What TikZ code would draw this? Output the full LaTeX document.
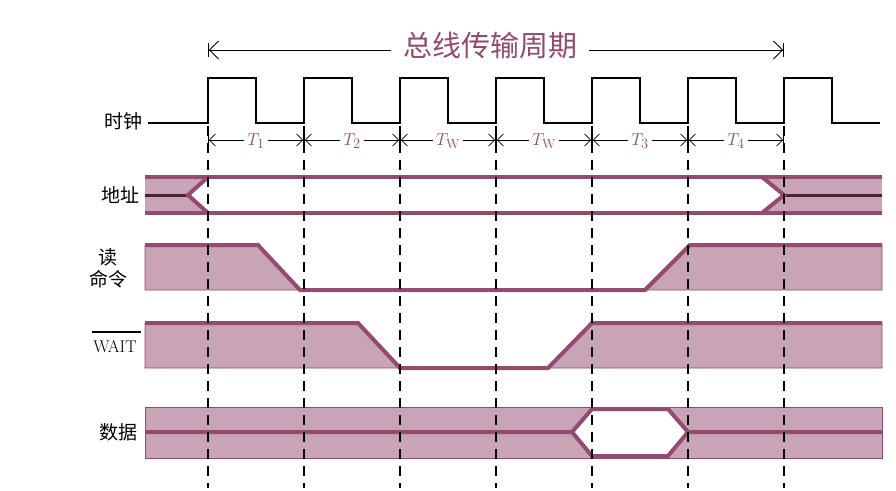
\documentclass[tikz,border=0pt]{standalone}
\usepackage{fontspec}
\newfontfamily\cjk{Noto Sans CJK SC}
\usetikzlibrary{arrows.meta}
\definecolor{pl}{HTML}{934B70}
\definecolor{pf}{HTML}{C9A3B6}
\definecolor{dk}{HTML}{4A2236}
\begin{document}
\begin{tikzpicture}[x=1pt,y=-1pt,
  sig/.style={pl,line width=4pt,line join=miter},
  fl/.style={fill=pf,draw=pl,line width=0.6pt},
  lbl/.style={font=\cjk\fontsize{19}{22}\selectfont,anchor=east},
  dim/.style={{Bar[width=8pt]Straight Barb[length=6pt]}-{Straight Barb[length=6pt]Bar[width=8pt]},line width=0.8pt}]
\useasboundingbox (0,0) rectangle (896,490);
% title
\draw[{Bar[width=14pt]Straight Barb[length=9pt]}-{Straight Barb[length=9pt]Bar[width=14pt]},line width=0.9pt] (208,50) -- (784,50);
\node[fill=white,text=pl,font=\cjk\fontsize{29}{32}\selectfont,inner xsep=12pt] (title) at (490,46) {总线传输周期};
% clock
\draw[line width=2.4pt] (148,123)
 foreach \x in {208,304,400,496,592,688,784} { -- (\x,123) -- (\x,78) -- (\x+48,78) -- (\x+48,123)} -- (880,123);
\node[lbl] (clk) at (146,121) {时钟};
% T labels
\foreach \a/\t [count=\i] in {208/$T_1$,304/$T_2$,400/$T_{\mathrm W}$,496/$T_{\mathrm W}$,592/$T_3$,688/$T_4$}{
  \draw[dim] (\a,140) -- (\a+96,140);
  \node[fill=white,text=pl,font=\fontsize{19}{21}\selectfont,inner sep=3pt] (t\i) at (\a+48,141) {\t};
}
% address
\fill[pf] (145,177) -- (208,177) -- (188,195) -- (208,213) -- (145,213) -- cycle;
\fill[pf] (882,177) -- (762,177) -- (784,195) -- (762,213) -- (882,213) -- cycle;
\draw[dk,line width=3pt] (145,195) -- (188,195);
\draw[dk,line width=3pt] (784,195) -- (882,195);
\draw[sig] (145,177) -- (882,177);
\draw[sig] (145,213) -- (882,213);
\draw[sig] (208,177) -- (188,195) -- (208,213);
\draw[sig] (762,177) -- (784,195) -- (762,213);
\node[lbl] (addr) at (143,195) {地址};
% read
\draw[fl] (145,245) -- (258,245) -- (300,290) -- (145,290) -- cycle;
\draw[fl] (690,245) -- (882,245) -- (882,290) -- (645,290) -- cycle;
\draw[sig] (145,245) -- (258,245) -- (300,290) -- (645,290) -- (690,245) -- (882,245);
\node[lbl,align=center,anchor=center] (rd) at (108,268) {读\\命令};
% wait
\draw[fl] (145,323) -- (358,323) -- (400,368) -- (145,368) -- cycle;
\draw[fl] (592,323) -- (882,323) -- (882,368) -- (548,368) -- cycle;
\draw[sig] (145,323) -- (358,323) -- (400,368) -- (548,368) -- (592,323) -- (882,323);
\draw[line width=1.5pt] (92,332) -- (141,332);
\node[anchor=center,font=\fontsize{17}{19}\selectfont] (wait) at (115,347) {WAIT};
% data
\draw[fl] (145,407) -- (882,407) -- (882,458) -- (145,458) -- cycle;
\fill[white] (572,432) -- (592,409) -- (668,409) -- (688,432) -- (668,456) -- (592,456) -- cycle;
\draw[sig] (145,432) -- (572,432) -- (592,409) -- (668,409) -- (688,432) -- (882,432);
\draw[sig] (572,432) -- (592,456) -- (668,456) -- (688,432);
\node[lbl] (dat) at (141,432) {数据};
% dashed guides
\foreach \x in {208,304,400,496,592,688,784}
  \draw[line width=2.2pt,dash pattern=on 10pt off 7pt] (\x,126) -- (\x,488);
\end{tikzpicture}
\end{document}
